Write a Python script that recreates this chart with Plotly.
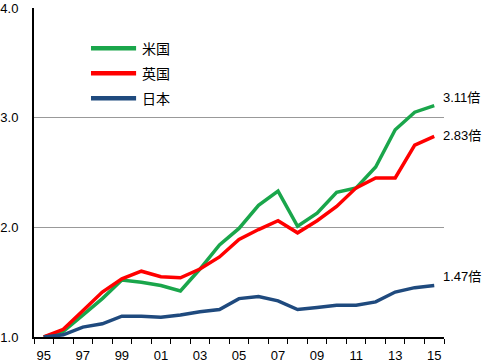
import plotly.graph_objects as go

years = ["95", "96", "97", "98", "99", "00", "01", "02", "03", "04", "05",
         "06", "07", "08", "09", "10", "11", "12", "13", "14", "15"]
us = [1.00, 1.05, 1.20, 1.35, 1.52, 1.50, 1.47, 1.42, 1.62, 1.84, 1.99,
      2.20, 2.33, 2.01, 2.13, 2.32, 2.36, 2.55, 2.89, 3.05, 3.11]
uk = [1.00, 1.07, 1.24, 1.41, 1.53, 1.60, 1.55, 1.54, 1.62, 1.73, 1.89,
      1.98, 2.06, 1.95, 2.06, 2.19, 2.36, 2.45, 2.45, 2.75, 2.83]
jp = [1.00, 1.02, 1.09, 1.12, 1.19, 1.19, 1.18, 1.20, 1.23, 1.25, 1.35,
      1.37, 1.33, 1.25, 1.27, 1.29, 1.29, 1.32, 1.41, 1.45, 1.47]
names = ["米国", "英国", "日本"]
colors = ["#1aa64b", "#ff0000", "#1f4a7e"]
end_labels = ["3.11倍", "2.83倍", "1.47倍"]
label_shift = [8, 1, 9]
ytick_vals = [1.0, 2.0, 3.0, 4.0]
ytick_text = ["1.0", "2.0", "3.0", "4.0"]

xs = list(range(len(years)))
fig = go.Figure()
series = [us, uk, jp]
for s, n, c in zip(series, names, colors):
    fig.add_trace(go.Scatter(x=xs, y=s, mode="lines", name=n,
                             line=dict(color=c, width=3.5), showlegend=False))

font_main = "Liberation Sans, Arial, Noto Sans CJK JP, sans-serif"

# end labels
for s, lab, sh in zip(series, end_labels, label_shift):
    fig.add_annotation(x=xs[-1], y=s[-1], text=lab, showarrow=False,
                       xanchor="left", yanchor="middle", xshift=7, yshift=sh,
                       font=dict(size=13, color="#000", family=font_main))

# manual legend
leg_y = [0.878, 0.802, 0.726]
for n, c, ly in zip(names, colors, leg_y):
    fig.add_shape(type="line", xref="paper", yref="paper", x0=0.139, x1=0.249,
                  y0=ly, y1=ly, line=dict(color=c, width=4.5))
    fig.add_annotation(xref="paper", yref="paper", x=0.258, y=ly, text=n,
                       showarrow=False, xanchor="left", yanchor="middle",
                       font=dict(size=14, color="#000", family="Noto Sans CJK JP, sans-serif"))

fig.update_layout(
    width=500, height=363,
    margin=dict(l=34, r=56, t=8, b=26, autoexpand=False),
    plot_bgcolor="white", paper_bgcolor="white",
    xaxis=dict(range=[-0.5, 20.5], tickvals=xs[::2], ticktext=years[::2],
               ticks="", showgrid=False, zeroline=False, automargin=False,
               showline=True, linecolor="black", linewidth=2,
               tickfont=dict(size=13, color="#000", family=font_main),
               minor=dict(tick0=-0.5, dtick=1, ticks="outside", ticklen=5,
                          tickcolor="black", tickwidth=1, showgrid=False),
               ticklabelstandoff=5),
    yaxis=dict(range=[1, 4], tickvals=ytick_vals, ticktext=ytick_text,
               showgrid=True, gridcolor="#999999", gridwidth=1, automargin=False,
               zeroline=False, showline=True, linecolor="black", linewidth=2,
               ticks="", tickfont=dict(size=13, color="#000", family=font_main),
               ticklabelstandoff=11),
)

fig.write_html("out.html", config={"displayModeBar": False},
               post_script="document.body.style.margin='0';document.body.style.overflow='hidden';")
